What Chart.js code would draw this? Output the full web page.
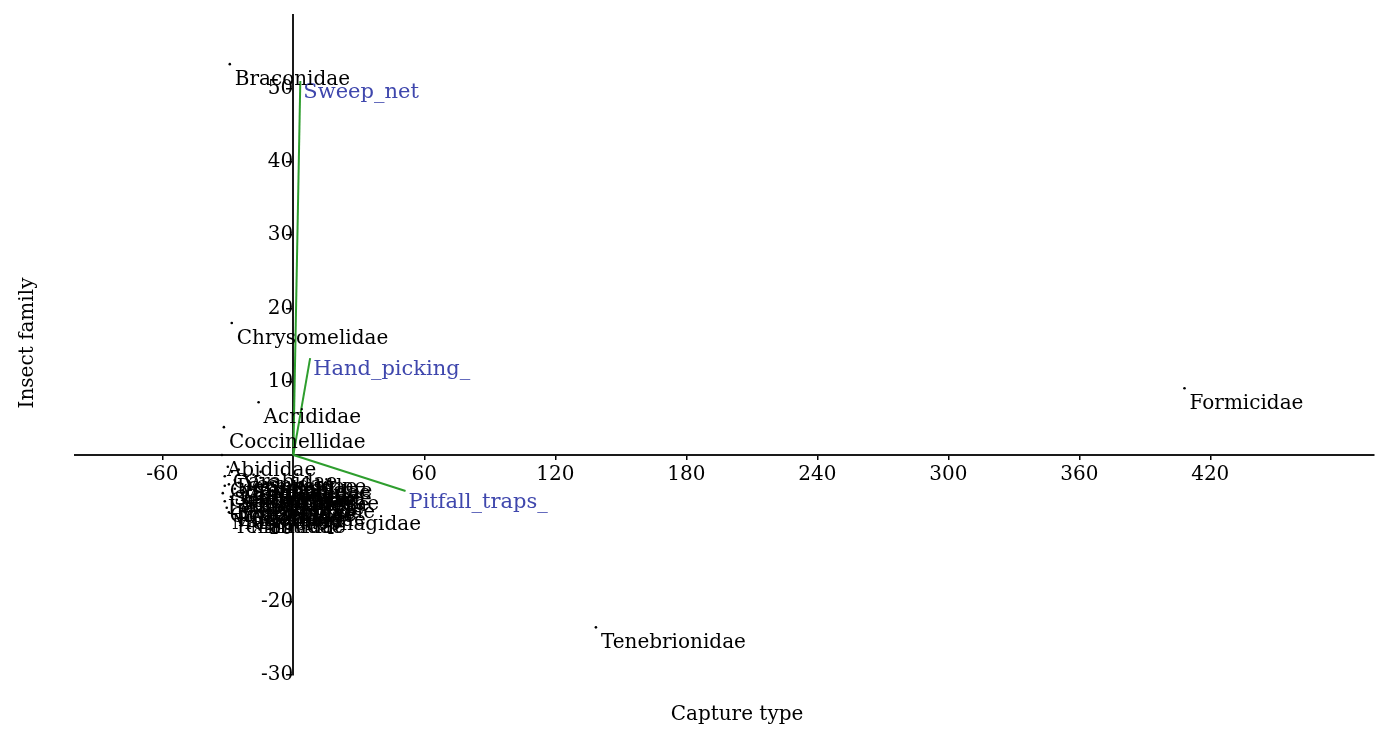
<!DOCTYPE html>
<html><head><meta charset="utf-8">
<script src="https://cdn.jsdelivr.net/npm/chart.js@4.4.0/dist/chart.umd.min.js"></script>
<style>html,body{margin:0;padding:0;background:#fff;} canvas{display:block;}</style>
</head><body>
<canvas id="c" width="1378" height="729"></canvas>
<script>
// Insect families (row scores)
const familyNames = ['Braconidae','Chrysomelidae','Acrididae','Coccinellidae','Formicidae','Tenebrionidae',
  'Abididae','Carabidae','Vespidae','Curculionidae','Meloidae','Scarabaeidae','Staphylinidae','Lygaeidae',
  'Pentatomidae','Cicadellidae','Elateridae','Muscidae','Gryllidae','Syrphidae','Apidae',
  'Miridae','Coreidae','Silphidae','Histeridae','Noctuidae','Pieridae','Lycaenidae','Tachinidae',
  'Termitidae','Mantidae','Blattidae','Cantharidae','Dermestidae','Sphecidae','Chalcididae','Necrophagidae'];
const familyX = [-29.1,-28.2,-15.9,-31.8,408.2,138.6,
  -32.7,-30.0,-25.0,-31.4,-26.8,-29.5,-26.8,-32.3,
  -28.6,-31.4,-27.7,-30.5,-22.7,-20.5,-18.2,
  -11.4,-15.0,-21.4,-23.2,-17.7,-12.3,-25.9,-19.5,
  -29.5,-22.3,-9.5,-31.4,-28.2,-15.0,-25.0,-15.0];
const familyY = [53.3,18.0,7.2,3.8,9.1,-23.5,
  0.0,-1.6,-2.0,-2.9,-3.4,-4.0,-4.6,-5.2,
  -5.7,-6.3,-6.8,-7.2,-6.5,-4.2,-2.7,
  -3.8,-2.3,-3.1,-4.8,-5.3,-5.9,-6.1,-6.8,
  -7.8,-7.8,-4.8,-4.2,-2.3,-3.1,-3.8,-7.4];
// Capture types (column vectors)
const captureNames = ['Sweep_net','Hand_picking_','Pitfall_traps_'];
const captureX = [3.2, 7.7, 51.4];
const captureY = [51.0, 13.2, -4.9];
// Axes
const xTicks = [-60,60,120,180,240,300,360,420];
const yTicks = [50,40,30,20,10,-10,-20,-30];
const xTitle = 'Capture type';
const yTitle = 'Insect family';

const FONT = '"DejaVu Serif", serif';

const datasets = [];
captureNames.forEach((n, i) => {
  datasets.push({
    data: [{x:0,y:0},{x:captureX[i], y:captureY[i]}],
    showLine: true, borderColor: '#2e9e2e', borderWidth: 2, pointRadius: 0,
    labels: ['', n], labelFont: '21px ' + FONT, labelColor: '#3f47ad', labelDx: 3, labelDy: 17
  });
});
datasets.push({
  data: familyNames.map((n,i)=>({x:familyX[i], y:familyY[i]})),
  pointRadius: 1.3, backgroundColor: '#000', borderWidth: 0,
  labels: familyNames, labelFont: '20px ' + FONT, labelColor: '#000', labelDx: 5, labelDy: 21
});

const labelPlugin = {
  id: 'pointLabels',
  afterDatasetsDraw(chart) {
    const ctx = chart.ctx;
    chart.data.datasets.forEach((ds, i) => {
      if (!ds.labels) return;
      const meta = chart.getDatasetMeta(i);
      ctx.save();
      ctx.font = ds.labelFont; ctx.fillStyle = ds.labelColor;
      ctx.textAlign = 'left'; ctx.textBaseline = 'alphabetic';
      meta.data.forEach((el, j) => {
        if (ds.labels[j]) ctx.fillText(ds.labels[j], el.x + ds.labelDx, el.y + ds.labelDy);
      });
      ctx.restore();
    });
    ctx.save();
    ctx.font = '20px ' + FONT; ctx.fillStyle = '#000';
    ctx.textAlign = 'center'; ctx.textBaseline = 'alphabetic';
    ctx.fillText(xTitle, 737, 720);
    ctx.translate(33, 343); ctx.rotate(-Math.PI/2);
    ctx.fillText(yTitle, 0, 0);
    ctx.restore();
  }
};

new Chart(document.getElementById('c'), {
  type: 'scatter',
  data: { datasets },
  options: {
    responsive: false, animation: false, devicePixelRatio: 1,
    layout: { padding: { left: 75, right: 0, top: 15, bottom: 54 } },
    plugins: { legend: { display: false }, tooltip: { enabled: false } },
    scales: {
      x: {
        type: 'linear', min: -100, max: 495, position: { y: 0 },
        afterBuildTicks: s => { s.ticks = xTicks.map(v => ({value: v})); },
        grid: { display: true, drawOnChartArea: false, drawTicks: true, tickLength: 4, color: '#000', lineWidth: 1.5 },
        border: { display: true, color: '#1a1a1a', width: 2 },
        ticks: { color: '#000', font: { family: FONT, size: 20 }, padding: 4, maxRotation: 0, autoSkip: false }
      },
      y: {
        type: 'linear', min: -30, max: 60, position: { x: 0 },
        afterBuildTicks: s => { s.ticks = yTicks.map(v => ({value: v})); },
        grid: { display: true, drawOnChartArea: false, drawTicks: true, tickLength: 6, color: '#000', lineWidth: 1.5 },
        border: { display: true, color: '#1a1a1a', width: 2 },
        ticks: { color: '#000', font: { family: FONT, size: 20 }, padding: 3, autoSkip: false }
      }
    }
  },
  plugins: [labelPlugin]
});
</script>
</body></html>
